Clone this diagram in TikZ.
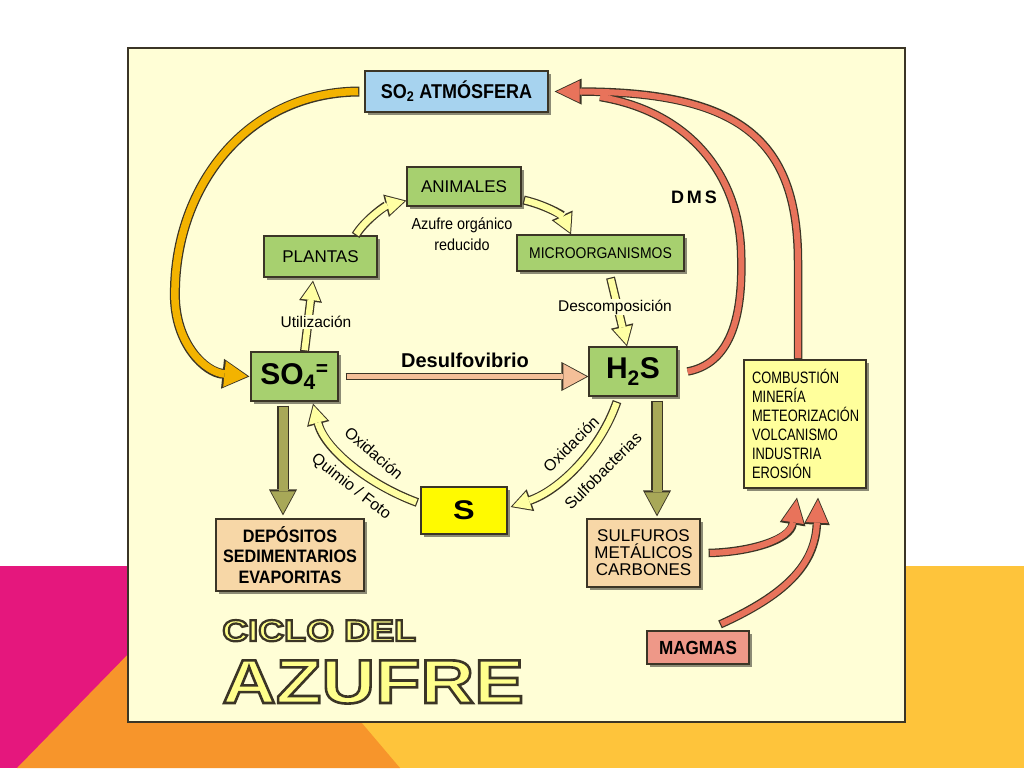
\documentclass[tikz,border=0pt]{standalone}
\usepackage{fontspec}
\setmainfont{Liberation Sans}
\newfontfamily\angosta[FakeStretch=0.9]{Liberation Sans}
\newfontfamily\estrecha[FakeStretch=0.78]{Liberation Sans}
\newfontfamily\ancha[FakeStretch=1.2]{Liberation Sans}
\newfontfamily\contornociclo[FakeStretch=1.2,FakeBold=7.5]{Liberation Sans Bold}
\newfontfamily\contornoazufre[FakeStretch=1.2,FakeBold=4.2]{Liberation Sans Bold}
\usetikzlibrary{arrows.meta,shadows}

\definecolor{crema}{HTML}{FFFED6}
\definecolor{borde}{HTML}{3B3526}
\definecolor{verde}{HTML}{A7D06F}
\definecolor{azul}{HTML}{A7D3EF}
\definecolor{durazno}{HTML}{F7D7A7}
\definecolor{amarillo}{HTML}{FFFA00}
\definecolor{amarilloclaro}{HTML}{FFFF9C}
\definecolor{salmon}{HTML}{EE9888}
\definecolor{rojo}{HTML}{E8735B}
\definecolor{naranja}{HTML}{F3B300}
\definecolor{palido}{HTML}{FFFFA3}
\definecolor{oliva}{HTML}{A8A858}
\definecolor{desulfo}{HTML}{F4BF98}
\definecolor{letra}{HTML}{FFFF8C}
\definecolor{fondorosa}{HTML}{E5177D}
\definecolor{fondonaranja}{HTML}{F7952B}
\definecolor{fondoamarillo}{HTML}{FEC43B}

% trazo oscuro para las letras del titulo
\newcommand{\trazooscuro}{\special{pdf:literal direct 0.231 0.208 0.149 RG}}

\tikzset{
  caja/.style={draw=borde, line width=1.2pt, inner sep=0pt, align=center,
    drop shadow={shadow xshift=3pt, shadow yshift=-3pt, opacity=0.45, fill=black}},
  etiqueta/.style={inner sep=1pt, align=center, font=\fontsize{16}{16}\selectfont},
  titulo/.style={anchor=base west, inner sep=0pt, text=letra, font=\contornociclo\fontsize{30}{30}\selectfont},
  tituloazufre/.style={titulo, font=\contornoazufre\fontsize{62}{62}\selectfont},
  flechanaranja/.style={draw=naranja, line width=7.5pt, shorten <=1.2pt, shorten >=2pt,
    -{Triangle[width=26pt,length=23pt,line width=0pt]},
    preaction={draw=borde, line width=10pt, shorten <=0pt, shorten >=0pt,
      -{Triangle[width=30pt,length=27pt,line width=0pt]}}},
  flecharoja/.style={draw=rojo, line width=6pt, shorten <=1.2pt, shorten >=2pt,
    -{Triangle[width=22pt,length=23pt,line width=0pt]},
    preaction={draw=borde, line width=8.5pt, shorten <=0pt, shorten >=0pt,
      -{Triangle[width=26pt,length=27pt,line width=0pt]}}},
  flechapalida/.style={draw=palido, line width=6.5pt, shorten <=1.2pt, shorten >=2pt,
    -{Triangle[width=19pt,length=17.5pt,line width=0pt]},
    preaction={draw=borde, line width=9pt, shorten <=0pt, shorten >=0pt,
      -{Triangle[width=23pt,length=21pt,line width=0pt]}}},
  flechadesulfo/.style={draw=desulfo, line width=5.2pt, shorten <=1.2pt, shorten >=2pt,
    -{Triangle[width=25pt,length=23pt,line width=0pt]},
    preaction={draw=borde, line width=7.5pt, shorten <=0pt, shorten >=0pt,
      -{Triangle[width=29pt,length=27pt,line width=0pt]}}},
  flechaoliva/.style={draw=oliva, line width=9pt, shorten <=1.2pt, shorten >=2pt,
    -{Triangle[width=24pt,length=22pt,line width=0pt]},
    preaction={draw=borde, line width=11.5pt, shorten <=0pt, shorten >=0pt,
      -{Triangle[width=28pt,length=26pt,line width=0pt]}}}
}

\begin{document}
\begin{tikzpicture}[x=1pt,y=-1pt]
\useasboundingbox (0,0) rectangle (1024,768);
% fondo
\fill[white] (0,0) rectangle (1024,768);
\fill[fondoamarillo] (0,566) rectangle (1024,768);
\fill[fondorosa] (0,566) rectangle (300,768);
\fill[fondonaranja] (17,768) -- (222,558) -- (400,768) -- cycle;
\filldraw[fill=crema, draw=borde, line width=2pt] (128,48) rectangle (905,722);

% cajas
\node[caja, fill=azul, minimum width=183pt, minimum height=41pt,
  font=\angosta\bfseries\fontsize{20}{20}\selectfont] (so2) at (456.5,91.5) {SO\textsubscript{2} ATMÓSFERA};
\node[caja, fill=verde, minimum width=114pt, minimum height=39pt,
  font=\fontsize{17}{17}\selectfont] (animales) at (464,186.5) {ANIMALES};
\node[caja, fill=verde, minimum width=113pt, minimum height=41pt,
  font=\fontsize{17}{17}\selectfont] (plantas) at (320.5,256.5) {PLANTAS};
\node[caja, fill=verde, minimum width=167pt, minimum height=36pt,
  font=\angosta\fontsize{15.5}{15.5}\selectfont] (micro) at (600.5,253) {MICROORGANISMOS};
\node[caja, fill=verde, minimum width=87pt, minimum height=49pt,
  font=\bfseries\fontsize{30}{30}\selectfont] (so4) at (294.5,376.5) {SO\textsubscript{4}\textsuperscript{=}};
\node[caja, fill=verde, minimum width=88pt, minimum height=49pt,
  font=\bfseries\fontsize{30}{30}\selectfont] (h2s) at (633,371.5) {H\textsubscript{2}S};
\node[caja, fill=amarillo, minimum width=86pt, minimum height=47pt,
  font=\ancha\bfseries\fontsize{27}{27}\selectfont] (s) at (464,510.5) {S};
\node[caja, fill=durazno, minimum width=148pt, minimum height=72pt,
  font=\angosta\bfseries\fontsize{18}{20.5}\selectfont] (depositos) at (290,555) {DEPÓSITOS\\SEDIMENTARIOS\\EVAPORITAS};
\node[caja, fill=durazno, minimum width=113pt, minimum height=68pt,
  font=\fontsize{17}{17}\selectfont] (sulfuros) at (643.5,553) {SULFUROS\\METÁLICOS\\CARBONES};
\node[caja, fill=amarilloclaro, minimum width=122pt, minimum height=128pt, align=left, text width=106pt,
  font=\estrecha\fontsize{16.5}{19}\selectfont] (combustion) at (805,424)
  {COMBUSTIÓN\\MINERÍA\\METEORIZACIÓN\\VOLCANISMO\\INDUSTRIA\\EROSIÓN};
\node[caja, fill=salmon, minimum width=102pt, minimum height=33pt,
  font=\angosta\bfseries\fontsize{19}{19}\selectfont] (magmas) at (698,647.5) {MAGMAS};

% flechas
\draw[flechanaranja] ([xshift=-5pt]so2.west) .. controls (245,92) and (172,190) .. (175,300)
  .. controls (177,345) and (205,372) .. ([xshift=-1pt]so4.west);
\draw[flecharoja] ([xshift=10pt]h2s.east) .. controls (738,362) and (743,300) .. (741,250)
  .. controls (738,175) and (690,112) .. (600,97)
  ([xshift=-7pt]combustion.north) -- (798,262) .. controls (798,140) and (740,92) .. ([xshift=6pt]so2.east);
\draw[flecharoja] ([xshift=8pt]sulfuros.east) .. controls (750,552) and (790,540)
  .. ([xshift=-8pt,yshift=-9pt]combustion.south);
\draw[flecharoja] ([xshift=22pt,yshift=6pt]magmas.north) .. controls (785,595) and (815,565)
  .. ([xshift=13pt,yshift=-9pt]combustion.south);
\draw[flechadesulfo] ([xshift=7pt]so4.east) -- (so4.east -| h2s.west);
\draw[flechaoliva] ([xshift=-11.5pt,yshift=-4pt]so4.south) -- ([xshift=-11.5pt,yshift=3pt]so4.south |- depositos.north);
\draw[flechaoliva] ([xshift=24pt,yshift=-4pt]h2s.south) -- ([xshift=24pt,yshift=2pt]h2s.south |- sulfuros.north);
\draw[flechapalida] ([xshift=-22pt]plantas.north east) .. controls (365,220) and (385,206)
  .. ([yshift=6pt]animales.south west);
\draw[flechapalida] ([xshift=2pt,yshift=-13.5pt]animales.east) .. controls (545,205) and (562,215)
  .. ([xshift=-29.5pt]micro.north);
\draw[flechapalida] ([xshift=10pt,yshift=-6pt]micro.south) -- ([xshift=-6pt]h2s.north);
\draw[flechapalida] ([xshift=10pt]so4.north) -- ([xshift=-7.5pt,yshift=-3pt]plantas.south);
\draw[flechapalida] ([xshift=-16pt,yshift=-5pt]h2s.south) .. controls (600,450) and (560,490)
  .. ([xshift=3pt,yshift=3.5pt]s.east);
\draw[flechapalida] ([xshift=-3pt,yshift=8pt]s.west) .. controls (370,485) and (325,450)
  .. ([xshift=18.5pt,yshift=-2pt]so4.south);

% etiquetas
\node[etiqueta, font=\angosta\fontsize{16}{21}\selectfont] (organico) at (462,234) {Azufre orgánico\\reducido};
\node[etiqueta, fill=crema, font=\fontsize{15.5}{15.5}\selectfont] (utilizacion) at (316,322) {Utilización};
\node[etiqueta, fill=crema, font=\fontsize{15.5}{15.5}\selectfont] (descomp) at (615,307) {Descomposición};
\node[etiqueta, anchor=base, font=\bfseries\fontsize{20}{20}\selectfont] (desulfovibrio) at (465,367) {Desulfovibrio};
\node[etiqueta, anchor=base, font=\bfseries\fontsize{18}{18}\selectfont] (dms) at (694,203) {D\,M\,S};
\node[etiqueta, rotate=-41] (oxiizq) at (374,453) {Oxidación};
\node[etiqueta, rotate=-38] (quimio) at (351,487) {Quimio / Foto};
\node[etiqueta, rotate=45] (oxider) at (571,444) {Oxidación};
\node[etiqueta, rotate=45] (sulfob) at (603,471) {Sulfobacterias};

% titulo
\node[titulo] (ciclo) at (222,641) {\trazooscuro CICLO DEL};
\node[tituloazufre] (azufre) at (222,703) {\trazooscuro AZUFRE};
\end{tikzpicture}
\end{document}
